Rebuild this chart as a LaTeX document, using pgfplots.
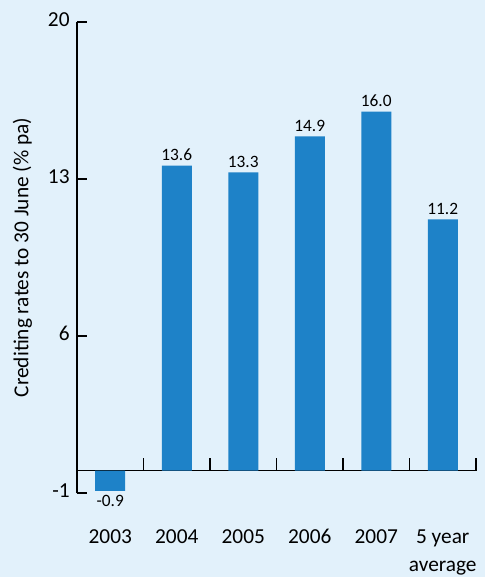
\documentclass[border=0pt]{standalone}
\usepackage{pgfplots}
\pgfplotsset{compat=1.18}
\usepackage{fontspec}
\setmainfont{Carlito}
\definecolor{bg}{HTML}{E2F1FB}
\definecolor{barblue}{HTML}{1E82C8}
\begin{document}
\begin{tikzpicture}
\useasboundingbox (-57.75pt,-63pt) rectangle (306pt,369.75pt);
\fill[bg] (-57.75pt,-63pt) rectangle (306pt,369.75pt);
\begin{axis}[
    scale only axis,
    width=299.25pt, height=353.25pt,
    xmin=-0.5, xmax=5.5,
    ymin=-1, ymax=20,
    clip=false,
    axis x line*=bottom,
    axis y line*=left,
    x axis line style={draw=none},
    y axis line style={-, line width=1.1pt, black},
    ytick={-1,6,13,20},
    xtick={0,1,...,5},
    xticklabels={2003,2004,2005,2006,2007,{5 year\\average}},
    major tick length=0pt,
    tick style={draw=none},
    typeset ticklabels with strut,
    xticklabel style={font=\fontsize{16}{21}\selectfont, align=center, anchor=north, yshift=-20pt},
    yticklabel style={font=\fontsize{16}{16}\selectfont, xshift=-2pt},
    /pgf/number format/assume math mode=true,
    ylabel={Crediting rates to 30 June (\% pa)},
    ylabel style={at={(axis description cs:0,0.5)}, anchor=center, yshift=41pt, font=\fontsize{16}{16}\selectfont},
]
% x axis line at zero and its tick marks
\draw[line width=1.1pt] (axis cs:-0.5,0) -- (axis cs:5.5,0);
\pgfplotsinvokeforeach{0.5,1.5,2.5,3.5,4.5,5.5}{
    \draw[line width=1.1pt] (axis cs:#1,0) -- (axis cs:#1,0.55);
}
\addplot[ybar, bar width=22.5pt, bar shift=0pt, fill=barblue, draw=none,
    nodes near coords,
    nodes near coords style={font=\fontsize{13}{13}\selectfont, /pgf/number format/fixed, /pgf/number format/precision=1, /pgf/number format/fixed zerofill}]
    coordinates {
    (0,-0.9) (1,13.6) (2,13.3) (3,14.9) (4,16.0) (5,11.2)
};
% y axis line (fallback) and its tick marks
\draw[line width=1.1pt, black] (axis cs:-0.5,-1) -- (axis cs:-0.5,20);
\pgfplotsinvokeforeach{-1,6,13,20}{
    \draw[line width=1.1pt] (axis cs:-0.5,#1) -- (axis cs:-0.35,#1);
}
\end{axis}
\end{tikzpicture}
\end{document}
